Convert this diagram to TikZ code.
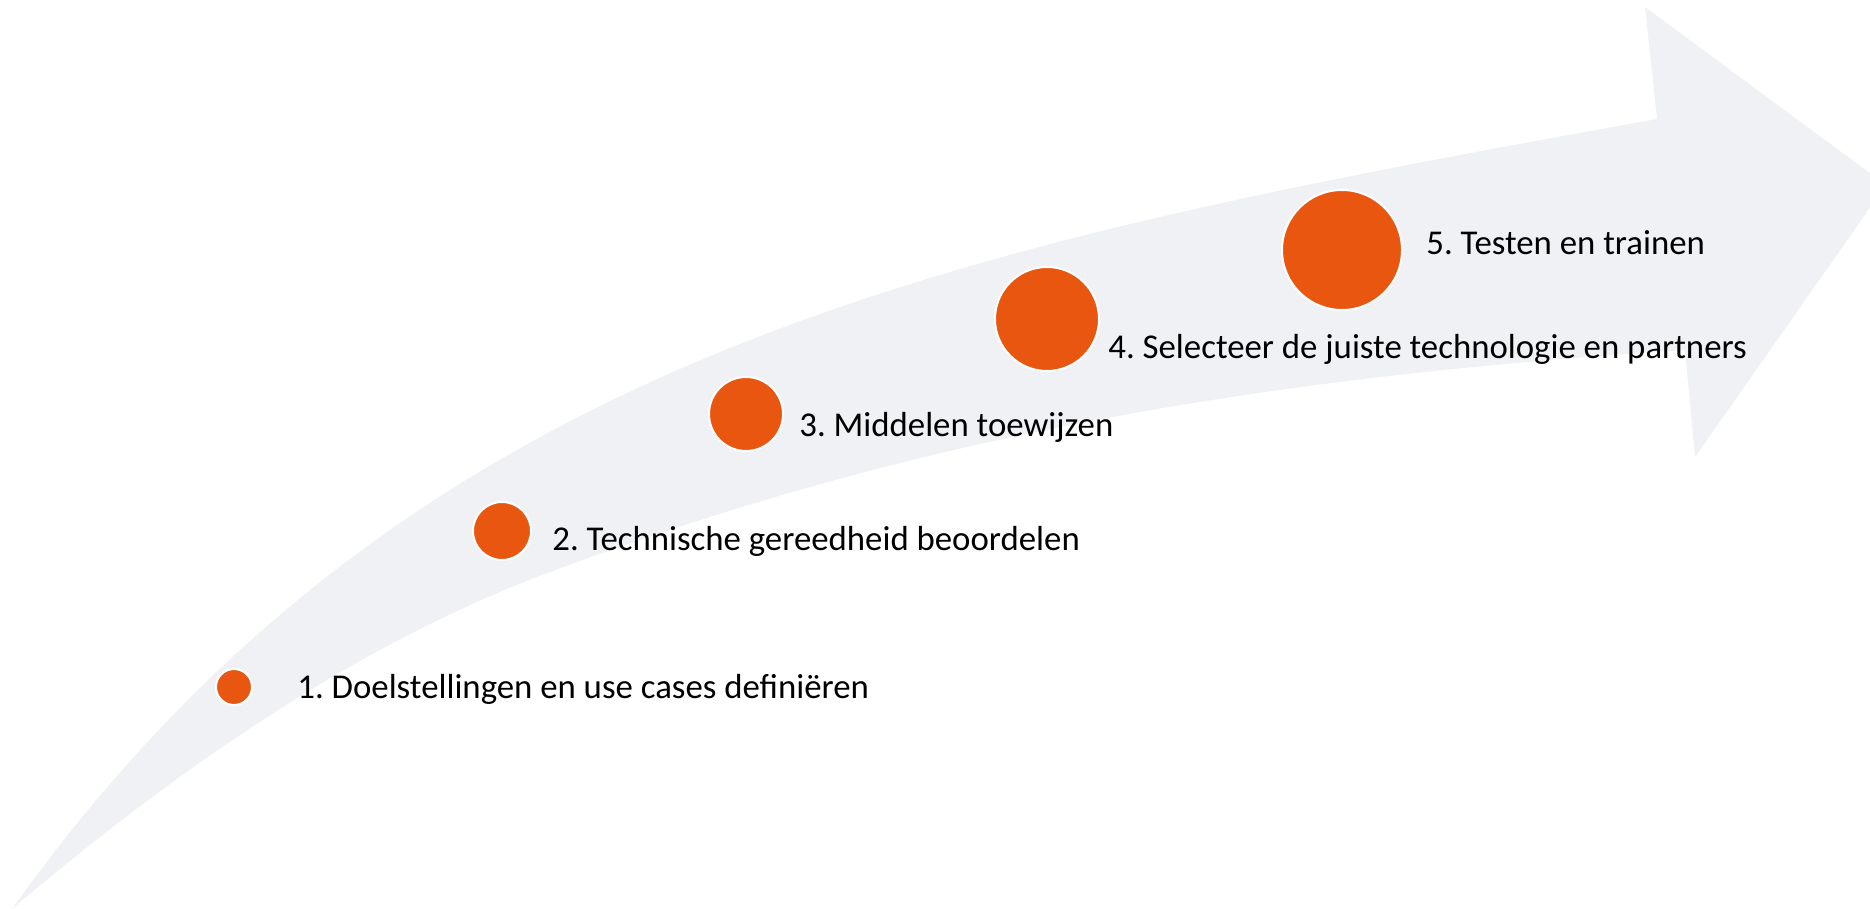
\documentclass[tikz,border=0pt]{standalone}
\usepackage{fontspec}
\setmainfont{Carlito}
\definecolor{bandgrey}{HTML}{F0F1F5}
\definecolor{dotorange}{HTML}{E9560F}
\frenchspacing
\begin{document}
\begin{tikzpicture}[x=0.5pt,y=-0.5pt,
  dot/.style={circle, fill=dotorange, draw=white, line width=1pt, inner sep=0pt},
  lbl/.style={font=\fontsize{17.4}{20}\selectfont, text=black, inner sep=0pt, anchor=base west}]
\useasboundingbox (0,0) rectangle (1870,909);
\clip (0,0) rectangle (1870,909);
% curved arrow band
\fill[bandgrey] (12,909)
  .. controls (412,349) and (957,245) .. (1657,119)
  -- (1645,7) -- (1886,185) -- (1695,457) -- (1685,350)
  .. controls (1235,379) and (900,442) .. (550,572)
  .. controls (370,639) and (192,756) .. (12,909)
  -- cycle;
% steps
\node[dot, minimum size=18pt] (c1) at (234,687) {};
\node[dot, minimum size=29pt] (c2) at (502,531) {};
\node[dot, minimum size=37pt] (c3) at (746,414) {};
\node[dot, minimum size=52pt] (c4) at (1047,319) {};
\node[dot, minimum size=60pt] (c5) at (1342,250) {};
\node[lbl] (t1) at (297,698) {1. Doelstellingen en use cases definiëren};
\node[lbl] (t2) at (552,550) {2. Technische gereedheid beoordelen};
\node[lbl] (t3) at (799,437) {3. Middelen toewijzen};
\node[lbl] (t4) at (1108,358) {4. Selecteer de juiste technologie en partners};
\node[lbl] (t5) at (1426,255) {5. Testen en trainen};
\end{tikzpicture}
\end{document}
